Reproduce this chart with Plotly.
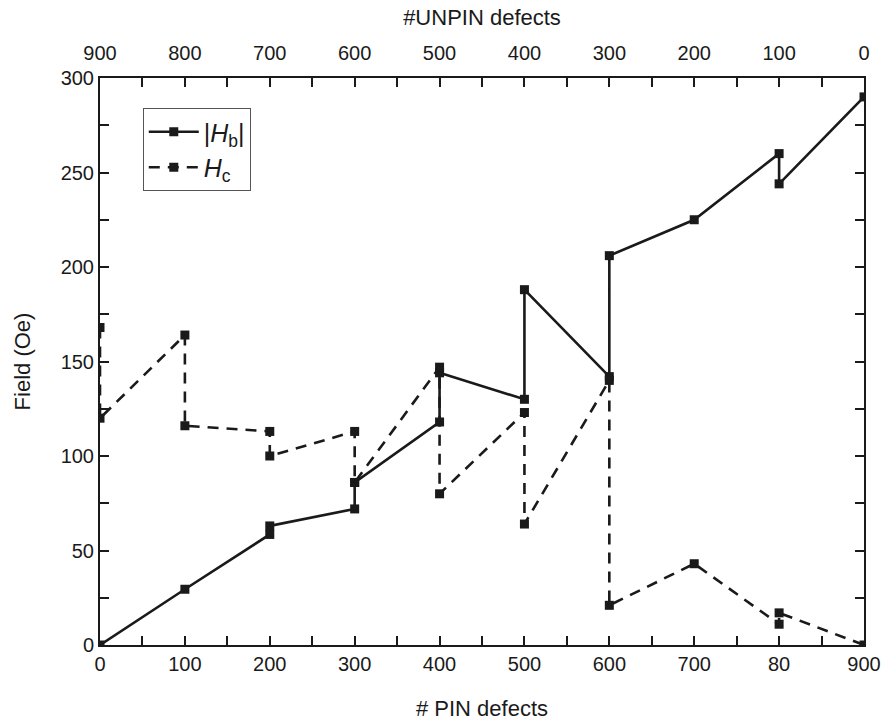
import plotly.graph_objects as go

# |H_b| branch: field vs. number of PIN defects
hb_pin = [0, 100, 200, 200, 300, 300, 400, 400, 500, 500, 600, 600, 700, 800, 800, 900]
hb_field = [0, 29.5, 58.5, 63, 72, 86, 118, 144, 130, 188, 142, 206, 225, 260, 244, 290]

# H_c branch
hc_pin = [0, 0, 100, 100, 200, 200, 300, 300, 400, 400, 500, 500, 600, 600, 700, 800, 800, 900]
hc_field = [168, 120, 164, 116, 113, 100, 113, 86, 147, 80, 123, 64, 140, 21, 43, 11, 17, 0]

# Axis tick values / labels
pin_ticks = [0, 100, 200, 300, 400, 500, 600, 700, 800, 900]
pin_labels = ["0", "100", "200", "300", "400", "500", "600", "700", "80", "900"]
unpin_ticks = [900, 800, 700, 600, 500, 400, 300, 200, 100, 0]
field_ticks = [0, 50, 100, 150, 200, 250, 300]

FONT = "Liberation Sans, Arial, sans-serif"
INK = "#1a1a1a"

fig = go.Figure()

fig.add_trace(go.Scatter(
    x=hb_pin, y=hb_field, mode="lines+markers",
    name="|<i>H</i><sub>b</sub>|",
    line=dict(color=INK, width=2.6),
    marker=dict(symbol="square", size=9, color=INK),
))
fig.add_trace(go.Scatter(
    x=hc_pin, y=hc_field, mode="lines+markers",
    name="<i>H</i><sub>c</sub>",
    line=dict(color=INK, width=2.6, dash="11px,8px"),
    marker=dict(symbol="square", size=9, color=INK),
))
# invisible trace to carry the reversed top axis
fig.add_trace(go.Scatter(
    x=unpin_ticks, y=[0] * len(unpin_ticks),
    xaxis="x2", showlegend=False, hoverinfo="skip", mode="markers",
    marker=dict(opacity=0),
))

tick_style = dict(ticks="inside", ticklen=9, tickwidth=1.5, tickcolor=INK)
axis_common = dict(
    showgrid=False, zeroline=False, showline=True, linecolor=INK, linewidth=2,
    automargin=False,
    **tick_style,
    tickfont=dict(family=FONT, size=20, color=INK),
)
title_font = dict(family=FONT, size=22, color=INK)

fig.update_layout(
    width=888, height=722,
    margin=dict(l=100, r=24, t=78, b=77),
    paper_bgcolor="white", plot_bgcolor="white",
    font=dict(family=FONT, color=INK),
    xaxis=dict(
        **axis_common, range=[0, 900],
        tickmode="array", tickvals=pin_ticks, ticktext=pin_labels,
        minor=dict(**tick_style, dtick=50, tick0=0),
        title=dict(text="# PIN defects", font=title_font, standoff=27),
    ),
    xaxis2=dict(
        **axis_common, overlaying="x", side="top", range=[900, 0],
        tickmode="array", tickvals=unpin_ticks,
        ticktext=[str(v) for v in unpin_ticks],
        ticklabelstandoff=8,
        minor=dict(**tick_style, dtick=50, tick0=0),
        title=dict(text="#UNPIN defects", font=title_font, standoff=10),
    ),
    yaxis=dict(
        **axis_common, range=[0, 300], mirror="ticks",
        tickmode="array", tickvals=field_ticks,
        minor=dict(**tick_style, dtick=25, tick0=0),
        title=dict(text="Field (Oe)", font=title_font, standoff=24),
    ),
    legend=dict(
        x=0.056, y=0.947, xanchor="left", yanchor="top",
        bordercolor="#555", borderwidth=1, bgcolor="white",
        font=dict(family=FONT, size=25, color=INK),
        tracegroupgap=4, itemwidth=50,
    ),
    showlegend=True,
)

fig.write_html("out.html")
